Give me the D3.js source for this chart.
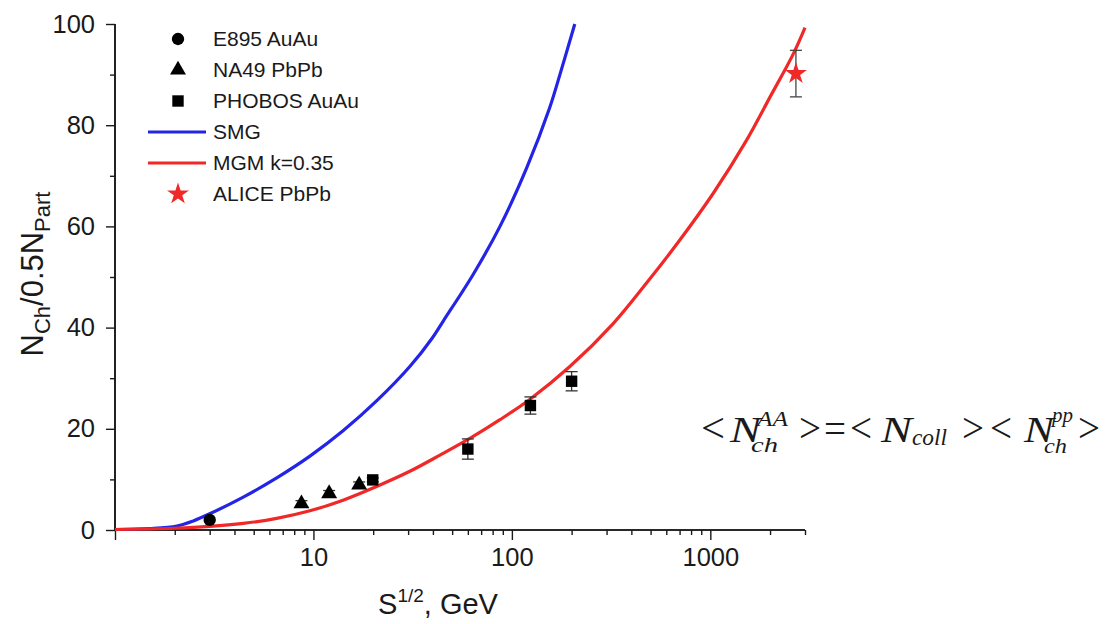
<!DOCTYPE html>
<html><head><meta charset="utf-8">
<script src="https://cdn.jsdelivr.net/npm/d3@7"></script>
<style>
html,body{margin:0;padding:0;background:#fff;}
svg{display:block;}
text{font-family:"Liberation Sans",Arial,sans-serif;fill:#1a1a1a;}
text.f, text.f tspan{font-family:"Liberation Serif","Times New Roman",serif;}
</style></head><body>
<svg id="c" width="1107" height="624"></svg>
<script>
// ---- data ----
const smgX = [1, 1.5, 2.05, 2.48, 3.0, 4.43, 6.53, 9.6, 14.1, 20.8, 30.6, 39.8, 45.1, 63.8, 87.1, 118.6, 155.2, 174.6, 207.5];
const smgY = [0.1, 0.3, 0.8, 1.8, 3.2, 6.5, 10.3, 14.6, 19.6, 25.5, 32.3, 38.0, 41.3, 50.5, 60.0, 71.5, 83.5, 90.0, 100];
const mgmX = [1, 2, 3, 4.43, 6.53, 9.6, 14.1, 20.8, 30.6, 43.4, 62, 87.1, 123, 196, 324, 477, 702, 1033, 1521, 1995, 2612, 3000];
const mgmY = [0.1, 0.35, 0.7, 1.3, 2.3, 3.8, 5.9, 8.6, 11.6, 14.8, 18.2, 21.8, 25.8, 32.3, 40.8, 48.8, 57.3, 66.5, 77.0, 85.5, 94.0, 99.3];
const e895X = [3.0], e895Y = [2.0];
const na49X = [8.7, 12.0, 17.0], na49Y = [5.2, 7.2, 8.9], na49Err = [0.6, 0.6, 0.6];
const phobosX = [19.9, 60, 124, 200], phobosY = [9.9, 16.0, 24.6, 29.4], phobosErr = [0.4, 2.0, 1.7, 1.9];
const aliceX = [2700], aliceY = [90.2], aliceErr = [4.6];
const yMajorTicks = [0, 20, 40, 60, 80, 100];
const yMinorTicks = [10, 30, 50, 70, 90];
const xMajorTicks = [1, 10, 100, 1000];
const xTickLabels = ["", "10", "100", "1000"];
const xMinorTicks = [2,3,4,5,6,7,8,9,20,30,40,50,60,70,80,90,200,300,400,500,600,700,800,900,2000,3000];
const legendNames = ["E895 AuAu", "NA49 PbPb", "PHOBOS AuAu", "SMG", "MGM k=0.35", "ALICE PbPb"];

// ---- layout ----
const L = 115, R = 805, T = 24, B = 530;
const blue = "#2424e6", red = "#f02828", ink = "#1a1a1a";
const svg = d3.select("#c");
const x = d3.scaleLog().domain([1, 3000]).range([L, R]);
const y = d3.scaleLinear().domain([0, 100]).range([B, T]);

// axes
const yAxG = svg.append("g").attr("transform", `translate(${L},0)`)
  .call(d3.axisLeft(y).tickValues(yMajorTicks).tickSize(9).tickPadding(11).tickFormat(d3.format("d")));
const yAxM = svg.append("g").attr("transform", `translate(${L},0)`)
  .call(d3.axisLeft(y).tickValues(yMinorTicks).tickSize(5).tickFormat(""));
const xAxG = svg.append("g").attr("transform", `translate(0,${B})`)
  .call(d3.axisBottom(x).tickValues(xMajorTicks).tickSize(10).tickPadding(8).tickFormat((d,i) => xTickLabels[i]));
const xAxM = svg.append("g").attr("transform", `translate(0,${B})`)
  .call(d3.axisBottom(x).tickValues(xMinorTicks).tickSize(5).tickFormat(""));
[yAxG, yAxM].forEach(g => g.select(".domain").attr("d", `M0,${T}V${B}`));
[xAxG, xAxM].forEach(g => g.select(".domain").attr("d", `M${L},0H${R}`));
svg.selectAll(".domain").attr("stroke", ink).attr("stroke-width", 1.6);
svg.selectAll(".tick line").attr("stroke", ink).attr("stroke-width", 1.4);
svg.selectAll(".tick text").attr("font-size", 25.5).attr("fill", ink)
  .style("font-family", '"Liberation Sans",Arial,sans-serif');

// curves
const line = d3.line().x(d => x(d[0])).y(d => y(d[1])).curve(d3.curveCatmullRom.alpha(0.5));
svg.append("path").datum(smgX.map((v,i)=>[v, smgY[i]])).attr("d", line)
  .attr("fill","none").attr("stroke", blue).attr("stroke-width", 3.2);
svg.append("path").datum(mgmX.map((v,i)=>[v, mgmY[i]])).attr("d", line)
  .attr("fill","none").attr("stroke", red).attr("stroke-width", 3.2);

// error bars
function errBars(xs, ys, es, col){
  xs.forEach((xv,i)=>{
    const g = svg.append("g").attr("stroke", col).attr("stroke-width", 1.3);
    const cx = x(xv), y1 = y(ys[i]+es[i]), y2 = y(ys[i]-es[i]);
    g.append("line").attr("x1",cx).attr("x2",cx).attr("y1",y1).attr("y2",y2);
    g.append("line").attr("x1",cx-6).attr("x2",cx+6).attr("y1",y1).attr("y2",y1);
    g.append("line").attr("x1",cx-6).attr("x2",cx+6).attr("y1",y2).attr("y2",y2);
  });
}
errBars(na49X, na49Y, na49Err, "#333");
errBars(phobosX, phobosY, phobosErr, "#333");
errBars(aliceX, aliceY, aliceErr, "#444");

// markers
const sym = {
  circle: d3.symbol().type(d3.symbolCircle).size(120),
  triangle: d3.symbol().type(d3.symbolTriangle).size(110),
  square: d3.symbol().type(d3.symbolSquare).size(130),
  star: d3.symbol().type(d3.symbolStar).size(150)
};
function pts(xs, ys, s, col){
  xs.forEach((xv,i)=>{
    svg.append("path").attr("d", sym[s]()).attr("fill", col)
      .attr("transform", `translate(${x(xv)},${y(ys[i])})`);
  });
}
pts(e895X, e895Y, "circle", "#000");
pts(na49X, na49Y, "triangle", "#000");
pts(phobosX, phobosY, "square", "#000");
pts(aliceX, aliceY, "star", red);

// legend
const legKinds = ["circle","triangle","square","line","line","star"];
const legCols = ["#000","#000","#000",blue,red,red];
const lg = svg.append("g");
legendNames.forEach((nm,i)=>{
  const yy = 39 + i*31;
  if (legKinds[i] === "line") {
    lg.append("line").attr("x1",148).attr("x2",206).attr("y1",yy).attr("y2",yy)
      .attr("stroke", legCols[i]).attr("stroke-width", 3);
  } else {
    lg.append("path").attr("d", sym[legKinds[i]]()).attr("fill", legCols[i])
      .attr("transform", `translate(178,${yy})`);
  }
  lg.append("text").attr("x", 213).attr("y", yy).attr("dy","0.35em")
    .attr("font-size", 21).text(nm);
});

// axis titles
const yt = svg.append("text").attr("transform","translate(43,274) rotate(-90)")
  .attr("text-anchor","middle").attr("font-size", 31);
yt.append("tspan").text("N");
yt.append("tspan").attr("font-size",22).attr("dy",7).text("Ch");
yt.append("tspan").attr("dy",-7).text("/0.5N");
yt.append("tspan").attr("font-size",22).attr("dy",7).text("Part");

const xt = svg.append("text").attr("x", 438).attr("y", 614)
  .attr("text-anchor","middle").attr("font-size", 29);
xt.append("tspan").text("S");
xt.append("tspan").attr("font-size",19).attr("dy",-12).text("1/2");
xt.append("tspan").attr("dy",12).text(", GeV");

// formula (single text element, pieces placed with tspans)
const fb = 442;
const formula = [
  {t:"<",    x:701,  y:fb,    fs:42, it:false, w:24},
  {t:"N",    x:730,  y:fb,    fs:35, it:true,  w:31},
  {t:"AA",   x:757,  y:fb-16, fs:21, it:true,  w:31},
  {t:"ch",   x:751,  y:fb+10, fs:22, it:true,  w:27},
  {t:">",    x:799,  y:fb,    fs:42, it:false, w:22},
  {t:"=",    x:824,  y:fb,    fs:42, it:false, w:22},
  {t:"<",    x:850,  y:fb,    fs:42, it:false, w:22},
  {t:"N",    x:881,  y:fb,    fs:35, it:true,  w:31},
  {t:"coll", x:912,  y:fb+3,  fs:24, it:true,  w:35},
  {t:">",    x:962,  y:fb,    fs:42, it:false, w:22},
  {t:"<",    x:990,  y:fb,    fs:42, it:false, w:22},
  {t:"N",    x:1024, y:fb,    fs:35, it:true,  w:30},
  {t:"pp",   x:1052, y:fb-20, fs:20, it:true,  w:21},
  {t:"ch",   x:1044, y:fb+11, fs:22, it:true,  w:23},
  {t:">",    x:1078, y:fb,    fs:42, it:false, w:22}
];
const ftxt = svg.append("text").attr("class","f");
formula.forEach(p => {
  ftxt.append("tspan").attr("x", p.x).attr("y", p.y).attr("font-size", p.fs)
    .attr("font-style", p.it ? "italic" : "normal")
    .attr("textLength", p.w).attr("lengthAdjust", "spacingAndGlyphs").text(p.t);
});
</script></body></html>
